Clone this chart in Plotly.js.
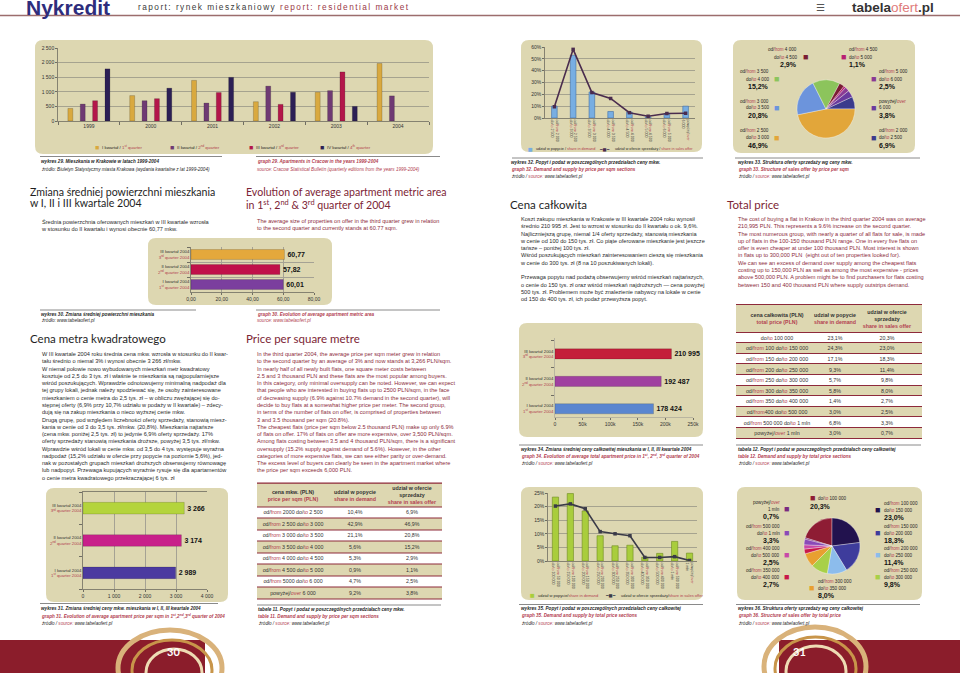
<!DOCTYPE html>
<html><head><meta charset="utf-8">
<script src="https://cdn.plot.ly/plotly-3.0.1.min.js"></script>
<style>html,body{margin:0;padding:0;background:#fff;overflow:hidden}#chart{width:960px;height:673px}</style>
</head><body><div id="chart"></div>
<script>
// ================= DATA =================
const years29 = ['1999','2000','2001','2002','2003','2004'];
const q1_29 = [430, 870, 1390, 660, 985, 1970];
const q2_29 = [580, 695, 615, 1195, 1040, 860];
const q3_29 = [695, 765, 975, 570, 1680, null];
const q4_29 = [1785, 1125, 1495, 985, 500, null];
const quarterLegend = ['I kwartał', 'II kwartał', 'III kwartał', 'IV kwartał'];
const quarterLegendEN = ['1<sup>st</sup> quarter', '2<sup>nd</sup> quarter', '3<sup>rd</sup> quarter', '4<sup>th</sup> quarter'];

const quartersPL = ['I kwartał 2004', 'II kwartał 2004', 'III kwartał 2004'];
const quartersEN = ['1<sup>st</sup> quarter 2004', '2<sup>nd</sup> quarter 2004', '3<sup>rd</sup> quarter 2004'];
const area30 = [60.01, 57.82, 60.77];
const price31 = [2989, 3174, 3266];
const total34 = [178424, 192487, 210995];

const sqmLabels = ['od/from 2 000<br>do/to 2 500','od/from 2 500<br>do/to 3 000','od/from 3 000<br>do/to 3 500','od/from 3 500<br>do/to 4 000','od/from 4 000<br>do/to 4 500','od/from 4 500<br>do/to 5 000','od/from 5 000<br>do/to 6 000','powyżej/over<br>6 000'];
const demand32 = [10, 53, 22, 5.5, 5, 0.9, 3.6, 10];
const offer32 = [9.5, 58, 21.5, 16.5, 4.5, 1.5, 3.8, 4];

const tbl11Range = ['od/from 2000 do/to 2 500','od/from 2 500 do/to 3 000','od/from 3 000 do/to 3 500','od/from 3 500 do/to 4 000','od/from 4 000 do/to 4 500','od/from 4 500 do/to 5 000','od/from 5000 do/to 6 000','powyżej/over 6 000'];
const tbl11Demand = [10.4, 42.9, 21.1, 5.6, 5.3, 0.9, 4.7, 9.2];
const tbl11Offer = [6.9, 46.9, 20.8, 15.2, 2.9, 1.1, 2.5, 3.8];

const tbl12Range = ['do/to 100 000','od/from 100 do/to 150 000','od/from 150 do/to 200 000','od/from 200 do/to 250 000','od/from 250 do/to 300 000','od/from 300 do/to 350 000','od/from 350 do/to 400 000','od/from400 do/to 500 000','od/from 500 000 do/to 1 mln','powyżej/over 1 mln'];
const tbl12Demand = [23.1, 24.3, 17.1, 9.3, 5.7, 5.8, 1.4, 3.0, 6.8, 3.0];
const tbl12Offer = [20.3, 23.0, 18.3, 11.4, 9.8, 8.0, 2.7, 2.5, 3.3, 0.7];

const totLabels = ['od/from 50 000<br>do/to 100 000','od/from 100 000<br>do/to 150 000','od/from 150 000<br>do/to 200 000','od/from 200 000<br>do/to 250 000','od/from 250 000<br>do/to 300 000','od/from 300 000<br>do/to 350 000','od/from 350 000<br>do/to 400 000','od/from 400 000<br>do/to 500 000','od/from 500 000<br>do/to 1 mln','powyżej/over<br>1 mln'];
const demand35 = [23.5, 24.8, 18.4, 9.3, 5.6, 5.8, 1.4, 2.8, 7.2, 2.9];
const offer35 = [20.2, 21.0, 19.2, 10.8, 10.0, 9.3, 1.3, 1.3, 1.6, 0.2];

// ================= STYLE =================
const BODY = 'Liberation Sans, Arial, sans-serif';
const HEAD = 'Lato, Open Sans, sans-serif';
const DARK = '#262626', REDEN = '#8c2c3c', REDL = '#b2404f', KHAKI = '#ddd7b1', GRID = '#8f8d80';
const W = 960, H = 673;
const px = x => x / W, py = y => 1 - y / H;
const hd = (a, b) => [a / W, b / W], vd = (t, b) => [1 - b / H, 1 - t / H];
const en = s => s.replace(/\/(from|to|over)/g, '/<span style="color:' + REDL + '">$1</span>');
const red = s => '<span style="color:' + REDL + '">' + s + '</span>';
const pct = v => v.toFixed(1).replace('.', ',') + '%';
const thou = v => String(Math.round(v)).replace(/\B(?=(\d{3})+(?!\d))/g, ' ');

const ann = [], shp = [];
function T(x, y, text, o) {
  o = o || {};
  ann.push({xref:'paper', yref:'paper', x:px(x), y:py(y), text:text, showarrow:false,
    xanchor:o.xa || 'left', yanchor:o.ya || 'middle', align:o.align || o.xa || 'left', borderpad:0,
    font:{family:o.fam || BODY, size:o.s || 5.5, color:o.c || DARK}});
}
function P(x, y0, lines, o) { o = o || {}; const s = o.s || 5.6; T(x, y0 - s * 0.65, lines.join('<br>'), Object.assign({ya:'top', s:s}, o)); }
function box(x0, y0, x1, y1, r) {
  const rx = r / W, ry = r / H; const a = px(x0), b = px(x1), t = py(y0), u = py(y1);
  shp.push({type:'path', xref:'paper', yref:'paper', layer:'below', fillcolor:KHAKI, line:{width:0},
    path:`M${a+rx},${t} L${b-rx},${t} Q${b},${t} ${b},${t-ry} L${b},${u+ry} Q${b},${u} ${b-rx},${u} L${a+rx},${u} Q${a},${u} ${a},${u+ry} L${a},${t-ry} Q${a},${t} ${a+rx},${t} Z`});
}
function hl(x0, x1, y, c, w) { shp.push({type:'line', xref:'paper', yref:'paper', x0:px(x0), x1:px(x1), y0:py(y), y1:py(y), line:{color:c || '#8a8a8a', width:w || 1}}); }
function cap(x, y, lines, dy) {
  lines.forEach((l, i) => T(x, y + i * (dy || 7.3), l, {s:4.6}));
}
function sq(x, y, color, s) { T(x, y, '■', {s:s || 9, c:color, xa:'center'}); }

// ================= HEADER =================
T(25, 8, '<b>Nykredit</b>', {s:21, c:'#2e2d7c'});
T(137, 7, '<span style="letter-spacing:1.45px">raport: rynek mieszkaniowy </span><span style="letter-spacing:1.45px;color:#9a3a48">report: residential market</span>', {s:8.3, c:'#3a3a3a'});
T(935, 8, '<b>tabela</b><span style="color:#e07b7b">ofert</span><b>.pl</b>', {s:13.5, c:'#333', xa:'right'});
T(826, 8, '☰', {s:10, c:'#555', fam:'DejaVu Sans', xa:'right'});
hl(0, 960, 15.5, '#9c6d6d', 1.4);

// ================= BOXES =================
box(35, 40, 433, 154, 8);   // 29
box(148, 238, 332, 305, 8); // 30
box(46, 488, 228, 602, 8);  // 31
box(521, 40, 702, 152, 8);  // 32
box(733, 40, 915, 153, 8);  // 33
box(519, 323, 703, 437, 8); // 34
box(521, 487, 703, 600, 8); // 35
box(737, 487, 922, 600, 8); // 36

// ================= TRACES =================
const traces = [];
const q29 = [q1_29, q2_29, q3_29, q4_29];
const col29 = ['#d9a93f', '#6f3a73', '#b3164a', '#2c1f55'];
q29.forEach((v, i) => traces.push({type:'bar', x:years29, y:v, xaxis:'x', yaxis:'y',
  marker:{color:col29[i], line:{color:'rgba(0,0,0,0.35)', width:0.5}}, hoverinfo:'skip'}));

const qCats = quartersPL.map((p, i) => p + '<br>' + red(quartersEN[i]));
const col30 = ['#7b3f9e', '#c0104a', '#e4a83c'];
traces.push({type:'bar', orientation:'h', x:area30, y:qCats, xaxis:'x2', yaxis:'y2', width:0.66,
  marker:{color:col30, line:{color:'rgba(0,0,0,0.3)', width:0.5}}, text:area30.map(v => '<b>' + v.toFixed(2).replace('.', ',') + '</b>'),
  textposition:'outside', constraintext:'none', cliponaxis:false, textfont:{family:BODY, size:7, color:'#111'}, hoverinfo:'skip'});

const col31 = ['#4b3aa0', '#c8208a', '#b4d43c'];
traces.push({type:'bar', orientation:'h', x:price31, y:qCats, xaxis:'x3', yaxis:'y3', width:0.36,
  marker:{color:col31, line:{color:'rgba(0,0,0,0.3)', width:0.5}}, text:price31.map(v => '<b>' + thou(v) + '</b>'),
  textposition:'outside', constraintext:'none', cliponaxis:false, textfont:{family:BODY, size:7, color:'#111'}, hoverinfo:'skip'});

const col34 = ['#5a86d0', '#a040a0', '#c41e3a'];
traces.push({type:'bar', orientation:'h', x:total34, y:qCats, xaxis:'x5', yaxis:'y5', width:0.37,
  marker:{color:col34, line:{color:'rgba(0,0,0,0.3)', width:0.5}}, text:total34.map(v => '<b>' + thou(v) + '</b>'),
  textposition:'outside', constraintext:'none', cliponaxis:false, textfont:{family:BODY, size:7, color:'#111'}, hoverinfo:'skip'});

const idx32 = sqmLabels.map((_, i) => i);
traces.push({type:'bar', x:idx32, y:demand32, xaxis:'x4', yaxis:'y4', width:0.3,
  marker:{color:'#78aee2', line:{color:'#3f6fa8', width:0.6}}, hoverinfo:'skip'});
traces.push({type:'scatter', mode:'lines+markers', x:idx32, y:offer32, xaxis:'x4', yaxis:'y4',
  line:{color:'#4a2c4e', width:1.6}, marker:{symbol:'square', size:3.5, color:'#4a2c4e'}, hoverinfo:'skip'});

const idx35 = totLabels.map((_, i) => i);
traces.push({type:'bar', x:idx35, y:demand35, xaxis:'x6', yaxis:'y6', width:0.42,
  marker:{color:'#a9cd3c', line:{color:'#6f8c20', width:0.6}}, hoverinfo:'skip'});
traces.push({type:'scatter', mode:'lines+markers', x:idx35, y:offer35, xaxis:'x6', yaxis:'y6',
  line:{color:'#3a3a48', width:1.6}, marker:{symbol:'square', size:3.5, color:'#3a3a48'}, hoverinfo:'skip'});

// pies
const col33 = ['#3b3a8c','#e2a63a','#6c94dc','#8cc45c','#7a1e34','#b81e72','#8a3a94','#6a3a9e'];
traces.push({type:'pie', values:tbl11Offer, labels:tbl11Range, sort:false, direction:'clockwise', rotation:65,
  domain:{x:hd(797, 855), y:vd(80, 138)}, marker:{colors:col33, line:{color:'rgba(255,255,255,0.55)', width:0.6}},
  textinfo:'none', hoverinfo:'skip', showlegend:false});
const col36 = ['#8e1c34','#22124e','#3e3c9c','#8cbcec','#a8d048','#e8a030','#c8184a','#c848a8','#8a4ab8','#7a2a80'];
traces.push({type:'pie', values:tbl12Offer, labels:tbl12Range, sort:false, direction:'clockwise', rotation:-73,
  domain:{x:hd(804, 860), y:vd(518, 574)}, marker:{colors:col36, line:{color:'rgba(255,255,255,0.55)', width:0.6}},
  textinfo:'none', hoverinfo:'skip', showlegend:false});

// tables as heatmaps
function tableHeat(xa, ya, colW, hdrH, rowH, header, rows) {
  const xe = [0]; colW.forEach(w => xe.push(xe[xe.length - 1] + w));
  const ye = [0, hdrH]; rows.forEach((r, i) => ye.push(hdrH + (i + 1) * rowH));
  const z = [[1, 1, 1]], text = [header];
  rows.forEach((r, i) => { z.push([i % 2, i % 2, i % 2]); text.push(r); });
  return {type:'heatmap', xaxis:xa, yaxis:ya, x:xe, y:ye, z:z, text:text, texttemplate:'%{text}',
    textfont:{family:BODY, size:5.3, color:'#333'}, colorscale:[[0, '#ffffff'], [1, KHAKI]], zmin:0, zmax:1,
    showscale:false, ygap:1, xgap:0, hoverinfo:'skip'};
}
const hdr11 = ['<b>cena mkw. (PLN)</b><br><b>' + red('price per sqm (PLN)') + '</b>', '<b>udział w popycie</b><br><b>' + red('share in demand') + '</b>', '<b>udział w ofercie<br>sprzedaży</b><br><b>' + red('share in sales offer') + '</b>'];
const rows11 = tbl11Range.map((r, i) => [en(r), pct(tbl11Demand[i]), pct(tbl11Offer[i])]);
traces.push(tableHeat('x7', 'y7', [71, 54, 60], 23.5, 11.5, hdr11, rows11));
const hdr12 = ['<b>cena całkowita (PLN)</b><br><b>' + red('total price (PLN)') + '</b>', '<b>udział w popycie</b><br><b>' + red('share in demand') + '</b>', '<b>udział w ofercie<br>sprzedaży</b><br><b>' + red('share in sales offer') + '</b>'];
const rows12 = tbl12Range.map((r, i) => [en(r), pct(tbl12Demand[i]), pct(tbl12Offer[i])]);
traces.push(tableHeat('x8', 'y8', [82, 34, 70], 27.5, 10.6, hdr12, rows12));
// table rule backgrounds
shp.push({type:'rect', xref:'paper', yref:'paper', layer:'below', x0:px(257), x1:px(442), y0:py(482.5), y1:py(599.5), fillcolor:'#8e2a3b', line:{width:0}});
shp.push({type:'rect', xref:'paper', yref:'paper', layer:'below', x0:px(736), x1:px(922), y0:py(304), y1:py(439), fillcolor:'#8e2a3b', line:{width:0}});

// ================= AXES =================
const tf = (s) => ({family:BODY, size:s || 5, color:'#333'});
function ax(extra) { return Object.assign({tickfont:tf(5), showline:true, linecolor:'#6f6d62', linewidth:0.8, ticks:'outside', ticklen:2,
  tickcolor:'#6f6d62', zeroline:false, showgrid:false, fixedrange:true, automargin:false}, extra); }

const layout = {
  width:W, height:H, margin:{l:0, r:0, t:0, b:0}, paper_bgcolor:'#ffffff', plot_bgcolor:'rgba(0,0,0,0)',
  separators:', ', showlegend:false, barmode:'group', bargap:0.2, bargroupgap:0.6,
  xaxis: ax({domain:hd(58, 429), anchor:'y', type:'category', tickson:'boundaries', ticklen:3}),
  yaxis: ax({domain:vd(48, 121), anchor:'x', range:[0, 2500], dtick:500, showgrid:true, gridcolor:GRID, gridwidth:0.7, separatethousands:true}),
  xaxis2: ax({domain:hd(191, 314), anchor:'y2', range:[0, 80], dtick:20, tickformat:'.2f', showgrid:true, gridcolor:'#a5a294'}),
  yaxis2: ax({domain:vd(247, 292), anchor:'x2', type:'category', tickson:'boundaries', showgrid:true, gridcolor:'#a5a294', tickfont:tf(4.3), ticklen:3}),
  xaxis3: ax({domain:hd(83, 207), anchor:'y3', range:[0, 4000], dtick:1000, separatethousands:true, showgrid:true, gridcolor:'#a5a294', mirror:true}),
  yaxis3: ax({domain:vd(492, 589), anchor:'x3', type:'category', tickson:'boundaries', tickfont:tf(4.3), ticklen:3}),
  xaxis4: ax({domain:hd(545, 695), anchor:'y4', range:[-0.5, 7.5], tickvals:idx32, ticktext:sqmLabels.map(en), tickangle:90, tickfont:tf(3.6), ticks:''}),
  yaxis4: ax({domain:vd(47, 118), anchor:'x4', range:[0, 60], dtick:10, ticksuffix:'%', showgrid:true, gridcolor:GRID, gridwidth:0.7}),
  xaxis5: ax({domain:hd(555, 693), anchor:'y5', range:[0, 250000], dtick:50000, linecolor:'#b0ad9c'}),
  yaxis5: ax({domain:vd(338, 417), anchor:'x5', type:'category', range:[-0.3, 2.58], tickson:'boundaries', tickfont:tf(4.3), ticklen:3, linecolor:'#b0ad9c'}),
  xaxis6: ax({domain:hd(548, 697), anchor:'y6', range:[-0.5, 9.5], tickvals:idx35, ticktext:totLabels.map(en), tickangle:90, tickfont:tf(3.6), ticks:''}),
  yaxis6: ax({domain:vd(493, 561), anchor:'x6', range:[0, 25], dtick:5, ticksuffix:'%', showgrid:true, gridcolor:GRID, gridwidth:0.7}),
  xaxis7: {domain:hd(257, 442), anchor:'y7', range:[0, 185], visible:false, fixedrange:true},
  yaxis7: {domain:vd(483.5, 599), anchor:'x7', range:[115.5, 0], visible:false, fixedrange:true},
  xaxis8: {domain:hd(736, 922), anchor:'y8', range:[0, 186], visible:false, fixedrange:true},
  yaxis8: {domain:vd(305, 438.5), anchor:'x8', range:[133.5, 0], visible:false, fixedrange:true},
  annotations: ann, shapes: shp
};

// ================= LEGENDS (charts) =================
[97, 172, 251, 322].forEach((x, i) => { sq(x, 147, col29[i], 7); T(x + 4, 147, quarterLegend[i] + ' / ' + red(quarterLegendEN[i]), {s:4.4}); });
sq(530, 149, '#78aee2', 8); T(535, 149, 'udział w popycie / ' + red('share in demand'), {s:3.8});
T(598, 149, '━■━', {s:4.3, c:'#4a2c4e', fam:'DejaVu Sans'}); T(614, 149, 'udział w ofercie sprzedaży / ' + red('share in sales offer'), {s:3.7});
sq(532, 595, '#a9cd3c', 8); T(537, 595, 'udział w popycie/' + red('share in demand'), {s:4.0});
T(604, 595, '━■━', {s:4.3, c:'#3a3a48', fam:'DejaVu Sans'}); T(620, 595, 'udział w ofercie sprzedaży/' + red('share in sales offer'), {s:4.0});

// ================= PIE LABELS =================
function pieLab(side, xText, xSq, yTop, l1, l2, p, color) {
  const xa = side === 'L' ? 'right' : 'left';
  T(xText, yTop, en(l1), {s:4.6, xa:xa});
  T(xText, yTop + 7, en(l2), {s:4.6, xa:xa});
  T(xText, yTop + 15, '<b>' + p + '</b>', {s:7, xa:xa, c:'#111'});
  sq(xSq, yTop + 7, color, 9);
}
pieLab('L', 798, 805, 50, 'od/from 4 000', 'do/to 4 500', pct(tbl11Offer[4]), col33[4]);
pieLab('R', 848, 843, 50, 'od/from 4 500', 'do/to 5 000', pct(tbl11Offer[5]), col33[5]);
pieLab('L', 770, 776, 72, 'od/from 3 500', 'do/to 4 000', pct(tbl11Offer[3]), col33[3]);
pieLab('R', 878, 873, 72, 'od/from 5 000', 'do/to 6 000', pct(tbl11Offer[6]), col33[6]);
pieLab('L', 770, 776, 101, 'od/from 3 000', 'do/to 3 500', pct(tbl11Offer[2]), col33[2]);
pieLab('R', 878, 873, 101, 'powyżej/over', '6 000', pct(tbl11Offer[7]), col33[7]);
pieLab('L', 770, 776, 131, 'od/from 2 500', 'do/to 3 000', pct(tbl11Offer[1]), col33[1]);
pieLab('R', 878, 873, 131, 'od/from 2 000', 'do/to 2 500', pct(tbl11Offer[0]), col33[0]);

pieLab('L', 781, 786, 502, 'powyżej/over', '1 mln', pct(tbl12Offer[9]), col36[9]);
pieLab('L', 781, 786, 526, 'od/from 500 000', 'do/to 1 mln', pct(tbl12Offer[8]), col36[8]);
pieLab('L', 781, 786, 548, 'od/from 400 000', 'do/to 500 000', pct(tbl12Offer[7]), col36[7]);
pieLab('L', 781, 786, 570, 'od/from 350 000', 'do/to 400 000', pct(tbl12Offer[6]), col36[6]);
pieLab('R', 883, 877, 503, 'od/from 100 000', 'do/to 150 000', pct(tbl12Offer[1]), col36[1]);
pieLab('R', 883, 877, 526, 'od/from 150 000', 'do/to 200 000', pct(tbl12Offer[2]), col36[2]);
pieLab('R', 883, 877, 548, 'od/from 200 000', 'do/to 250 000', pct(tbl12Offer[3]), col36[3]);
pieLab('R', 883, 877, 570, 'od/from 250 000', 'do/to 300 000', pct(tbl12Offer[4]), col36[4]);
pieLab('R', 817, 811, 581, 'od/from 300 000', 'do/to 350 000', pct(tbl12Offer[5]), col36[5]);
sq(812, 498, col36[0], 9); T(817, 498, en('do/to 100 000'), {s:4.6}); T(809, 507, '<b>' + pct(tbl12Offer[0]) + '</b>', {s:7, c:'#111'});

// ================= HEADINGS & TEXT =================
T(29, 192, 'Zmiana średniej powierzchni mieszkania', {s:10.6, fam:HEAD, c:'#1e1e1e'});
T(29, 203, 'w I, II i III kwartale 2004', {s:10.6, fam:HEAD, c:'#1e1e1e'});
T(245, 191.5, 'Evolution of average apartment metric area', {s:10.6, fam:HEAD, c:'#7d2535'});
T(245, 204, 'in 1<sup>st</sup>, 2<sup>nd</sup> &amp; 3<sup>rd</sup> quarter of 2004', {s:10.6, fam:HEAD, c:'#7d2535'});
P(40, 221, ['Średnia powierzchnia oferowanych mieszkań w III kwartale wzrosła', 'w stosunku do II kwartału i wynosi obecnie 60,77 mkw.'], {c:'#2a2a2a'});
P(256, 221, ['The average size of properties on offer in the third quarter grew in relation', 'to the second quarter and currently stands at 60.77 sqm.'], {c:REDEN});

T(29, 338, 'Cena metra kwadratowego', {s:11.5, fam:HEAD, c:'#1e1e1e'});
T(245, 338, 'Price per square metre', {s:11.5, fam:HEAD, c:'#7d2535'});
P(40, 354, [
 'W III kwartale 2004 roku średnia cena mkw. wzrosła w stosunku do II kwar-',
 'tału średnio o niemal 3% i wynosi obecnie 3 266 zł/mkw.',
 'W niemal połowie nowo wybudowanych mieszkań metr kwadratowy',
 'kosztuje od 2,5 do 3 tys. zł i właśnie te mieszkania są najpopularniejsze',
 'wśród poszukujących. Wprawdzie odnotowujemy minimalną nadpodaż dla',
 'tej grupy lokali, jednak należy spodziewać się, że osoby zainteresowane',
 'mieszkaniem o cenie metra do 2,5 tys. zł – w obliczu zwężającej się do-',
 'stępnej oferty (6,9% przy 10,7% udziału w podaży w II kwartale) – zdecy-',
 'dują się na zakup mieszkania o nieco wyższej cenie mkw.',
 'Drugą grupę, pod względem liczebności oferty sprzedaży, stanowią miesz-',
 'kania w cenie od 3 do 3,5 tys. zł/mkw. (20,8%). Mieszkania najtańsze',
 '(cena mkw. poniżej 2,5 tys. zł) to jedynie 6,9% oferty sprzedaży. 17%',
 'oferty sprzedaży stanowią mieszkania droższe, powyżej 3,5 tys. zł/mkw.',
 'Wprawdzie wśród lokali w cenie mkw. od 3,5 do 4 tys. występuje wyraźna',
 'nadpodaż (15,2% udziału w ofercie przy popycie na poziomie 5,6%), jed-',
 'nak w pozostałych grupach mieszkań droższych obserwujemy równowagę',
 'lub nadpopyt. Przewaga kupujących wyraźnie rysuje się dla apartamentów',
 'o cenie metra kwadratowego przekraczającej 6 tys. zł'], {c:'#2a2a2a'});
P(256, 354, [
 'In the third quarter 2004, the average price per sqm meter grew in relation',
 'to the second quarter by an average of 3% and now stands at 3,266 PLN/sqm.',
 'In nearly half of all newly built flats, one square meter costs between',
 '2.5 and 3 thousand PLN and these flats are the most popular among buyers.',
 'In this category, only minimal oversupply can be noted. However, we can expect',
 'that people who are interested in buying flats up to 2500 PLN/sqm, in the face',
 'of decreasing supply (6.9% against 10.7% demand in the second quarter), will',
 'decide to buy flats at a somewhat higher price per meter. The second group,',
 'in terms of the number of flats on offer, is comprised of properties between',
 '3 and 3.5 thousand per sqm (20.8%).',
 'The cheapest flats (price per sqm below 2.5 thousand PLN) make up only 6.9%',
 'of flats on offer. 17% of flats on offer are more expensive, over 3,500 PLN/sqm.',
 'Among flats costing between 3.5 and 4 thousand PLN/sqm, there is a significant',
 'oversupply (15.2% supply against demand of 5.6%). However, in the other',
 'categories of more expensive flats, we can see either parity or over-demand.',
 'The excess level of buyers can clearly be seen in the apartment market where',
 'the price per sqm exceeds 6,000 PLN.'], {c:REDEN});

T(509, 204, 'Cena całkowita', {s:11.5, fam:HEAD, c:'#1e1e1e'});
T(726, 204, 'Total price', {s:11.5, fam:HEAD, c:'#7d2535'});
P(519, 219, [
 'Koszt zakupu mieszkania w Krakowie w III kwartale 2004 roku wynosił',
 'średnio 210 995 zł. Jest to wzrost w stosunku do II kwartału o ok. 9,6%.',
 'Najliczniejszą grupę, niemal 1/4 oferty sprzedaży, stanowią mieszkania',
 'w cenie od 100 do 150 tys. zł. Co piąte oferowane mieszkanie jest jeszcze',
 'tańsze – poniżej 100 tys. zł.',
 'Wśród poszukujących mieszkań zainteresowaniem cieszą się mieszkania',
 'w cenie do 300 tys. zł (8 na 10 poszukiwanych lokali).',
 ' ',
 'Przewaga popytu nad podażą obserwujemy wśród mieszkań najtańszych,',
 'o cenie do 150 tys. zł oraz wśród mieszkań najdroższych — cena powyżej',
 '500 tys. zł. Problemem może być znalezienie nabywcy na lokale w cenie',
 'od 150 do 400 tys. zł, ich podaż przewyższa popyt.'], {c:'#2a2a2a'});
P(737, 219, [
 'The cost of buying a flat in Krakow in the third quarter 2004 was on average',
 '210,995 PLN. This represents a 9.6% increase on the second quarter.',
 'The most numerous group, with nearly a quarter of all flats for sale, is made',
 'up of flats in the 100-150 thousand PLN range. One in every five flats on',
 'offer is even cheaper at under 100 thousand PLN. Most interest is shown',
 'in flats up to 300,000 PLN  (eight out of ten properties looked for).',
 'We can see an excess of demand over supply among the cheapest flats',
 'costing up to 150,000 PLN as well as among the most expensive - prices',
 'above 500,000 PLN. A problem might be to find purchasers for flats costing',
 'between 150 and 400 thousand PLN where supply outstrips demand.'], {c:REDEN});

// ================= CAPTIONS =================
hl(40, 222, 156.5); hl(256, 440, 156.5);
cap(40, 161, ['<b><i>wykres 29. Mieszkania w Krakowie w latach 1999-2004</i></b>', '<i>źródło: Biuletyn Statystyczny miasta Krakowa (wydania kwartalne z lat 1999-2004)</i>'], 8);
cap(256, 161, ['<b><i>' + red('graph 29. Apartments in Cracow in the years 1999-2004') + '</i></b>', '<i>' + red('source: Cracow Statistical Bulletin (quarterly editions from the years 1999-2004)') + '</i>'], 8);
hl(40, 196, 310); hl(256, 440, 310);
cap(40, 314, ['<b><i>wykres 30. Zmiana średniej powierzchni mieszkania</i></b>', '<i>źródło: www.tabelaofert.pl</i>'], 6.5);
cap(256, 314, ['<b><i>' + red('graph 30. Evolution of average apartment metric area') + '</i></b>', '<i>' + red('source: www.tabelaofert.pl') + '</i>'], 6.5);
hl(40, 218, 603.5);
cap(40, 608, ['<b><i>wykres 31. Zmiana średniej ceny mkw. mieszkania w I, II, III kwartale 2004</i></b>', '<b><i>' + red('graph 31. Evolution of average apartment price per sqm in 1<sup>st</sup>,2<sup>nd</sup>,3<sup>rd</sup> quarter of 2004') + '</i></b>', '<i>źródło / ' + red('source:') + ' www.tabelaofert.pl</i>'], 7.5);
hl(257, 441, 605);
cap(257, 609, ['<b><i>tabele 11. Popyt i podaż w poszczególnych przedziałach ceny mkw.</i></b>', '<b><i>' + red('table 11. Demand and supply by price per sqm sections') + '</i></b>', '<i>źródło / ' + red('source:') + ' www.tabelaofert.pl</i>'], 7.2);
hl(512, 703, 158);
cap(510, 162, ['<b><i>wykres 32. Popyt i podaż w poszczególnych przedziałach ceny mkw.</i></b>', '<b><i>' + red('graph 32. Demand and supply by price per sqm sections') + '</i></b>', '<i>źródło / ' + red('source:') + ' www.tabelaofert.pl</i>'], 7.3);
hl(735, 920, 158);
cap(737, 162, ['<b><i>wykres 33. Struktura oferty sprzedaży wg ceny mkw.</i></b>', '<b><i>' + red('graph 33. Structure of sales offer by price per sqm') + '</i></b>', '<i>źródło / ' + red('source:') + ' www.tabelaofert.pl</i>'], 7.3);
hl(519, 703, 445);
cap(520, 449, ['<b><i>wykres 34. Zmiana średniej ceny całkowitej mieszkania w I, II, III kwartale 2004</i></b>', '<b><i>' + red('graph 34. Evolution of average total apartment price in 1<sup>st</sup>, 2<sup>nd</sup>, 3<sup>rd</sup> quarter of 2004') + '</i></b>', '<i>źródło / ' + red('source:') + ' www.tabelaofert.pl</i>'], 7.2);
hl(736, 921, 445);
cap(737, 449, ['<b><i>tabela 12. Popyt i podaż w poszczególnych przedziałach ceny całkowitej</i></b>', '<b><i>' + red('table 12. Demand and supply by total price sections') + '</i></b>', '<i>źródło / ' + red('source:') + ' www.tabelaofert.pl</i>'], 7.2);
hl(519, 703, 604.5);
cap(520, 608.5, ['<b><i>wykres 35. Popyt i podaż w poszczególnych przedziałach ceny całkowitej</i></b>', '<b><i>' + red('graph 35. Demand and supply by total price sections') + '</i></b>', '<i>źródło / ' + red('source:') + ' www.tabelaofert.pl</i>'], 7.3);
hl(736, 920, 604.5);
cap(737, 608.5, ['<b><i>wykres 36. Struktura oferty sprzedaży wg ceny całkowitej</i></b>', '<b><i>' + red('graph 36. Structure of sales offer by total price') + '</i></b>', '<i>źródło / ' + red('source:') + ' www.tabelaofert.pl</i>'], 7.3);

// ================= FOOTER =================
function ell(x0, y0, x1, y1, c, w) { shp.push({type:'circle', xref:'paper', yref:'paper', x0:px(x0), x1:px(x1), y0:py(y0), y1:py(y1), line:{color:c, width:w}, fillcolor:'rgba(0,0,0,0)'}); }
shp.push({type:'rect', xref:'paper', yref:'paper', x0:0, x1:px(205), y0:0, y1:py(640), fillcolor:'#8b1d2b', line:{width:0}});
ell(118, 630, 222, 706, '#d9b27a', 5); ell(132, 640, 212, 700, '#c8954a', 3); ell(146, 649, 202, 696, '#eedcb4', 3);
T(166, 651, '<b>30</b>', {s:11, c:'#ffffff', fam:HEAD});
shp.push({type:'rect', xref:'paper', yref:'paper', x0:px(779), x1:1, y0:0, y1:py(640), fillcolor:'#8b1d2b', line:{width:0}});
ell(764, 627, 866, 706, '#d9b27a', 5); ell(775, 637, 856, 700, '#c8954a', 3); ell(786, 646, 846, 696, '#eedcb4', 3);
T(792, 651, '<b>31</b>', {s:11, c:'#ffffff', fam:HEAD});

Plotly.newPlot('chart', traces, layout, {staticPlot:true, displayModeBar:false});
</script></body></html>
